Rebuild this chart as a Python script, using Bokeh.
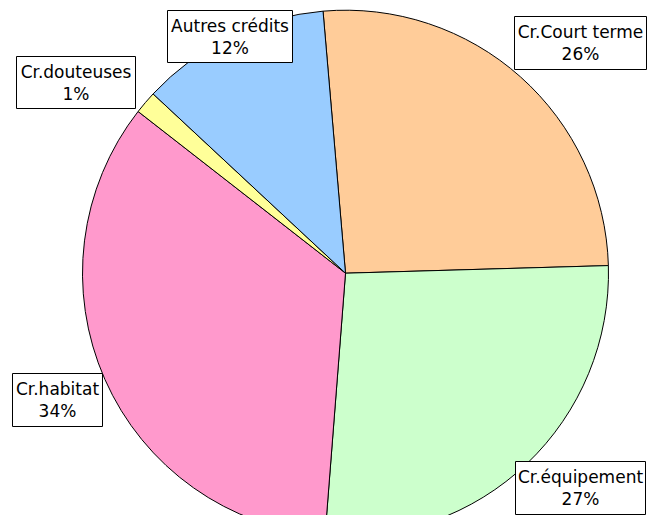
import math
from bokeh.plotting import figure
from bokeh.models import Range1d, ColumnDataSource
from bokeh.core.properties import value
from bokeh.embed import file_html
from bokeh.resources import INLINE

# ---- data ----
categories = ["Cr.Court terme", "Cr.équipement", "Cr.habitat", "Cr.douteuses", "Autres crédits"]
shares = [25.9, 26.7, 34.3, 1.4, 11.7]
pct_labels = ["26%", "27%", "34%", "1%", "12%"]
colors = ["#FFCC99", "#CCFFCC", "#FF99CC", "#FFFF99", "#99CCFF"]

# ---- layout (pixels from top-left of figure) ----
W, H = 647, 515
CX, CY, R = 345, 272.7, 263
START_DEG = 94.9
box_cx = [580, 580, 57, 75.5, 229.5]
box_cy = [42.5, 487.5, 399.5, 82, 36]
box_w = [132, 130, 90, 119, 125]
box_h = [53, 53, 53, 52, 52]

total = sum(shares)
starts, ends = [], []
a = math.radians(START_DEG)
for s in shares:
    span = 2 * math.pi * s / total
    ends.append(a)
    starts.append(a - span)
    a -= span

p = figure(width=W, height=H, output_backend="svg", toolbar_location=None,
           x_range=Range1d(0, W), y_range=Range1d(0, H),
           x_axis_type=None, y_axis_type=None, min_border=0)
p.grid.visible = False
p.outline_line_color = None
p.background_fill_color = "white"
p.border_fill_color = "white"

pie = ColumnDataSource(dict(start=starts, end=ends, color=colors, cat=categories))
p.wedge(x=CX, y=H - CY, radius=R, start_angle="start", end_angle="end",
        fill_color="color", line_color="black", line_width=1, source=pie)

lab = ColumnDataSource(dict(
    x=box_cx, y=[H - v for v in box_cy], w=box_w, h=box_h,
    y1=[H - v + 11 for v in box_cy], y2=[H - v - 11 for v in box_cy],
    cat=categories, pct=pct_labels))
p.rect(x="x", y="y", width="w", height="h", fill_color="white",
       line_color="black", line_width=1, source=lab)
p.text(x="x", y="y1", text="cat", text_align="center", text_baseline="middle",
       text_font=value("DejaVu Sans"), text_font_size="17px", text_color="black", source=lab)
p.text(x="x", y="y2", text="pct", text_align="center", text_baseline="middle",
       text_font=value("DejaVu Sans"), text_font_size="17px", text_color="black", source=lab)

open("out.html", "w").write(file_html(p, INLINE))
